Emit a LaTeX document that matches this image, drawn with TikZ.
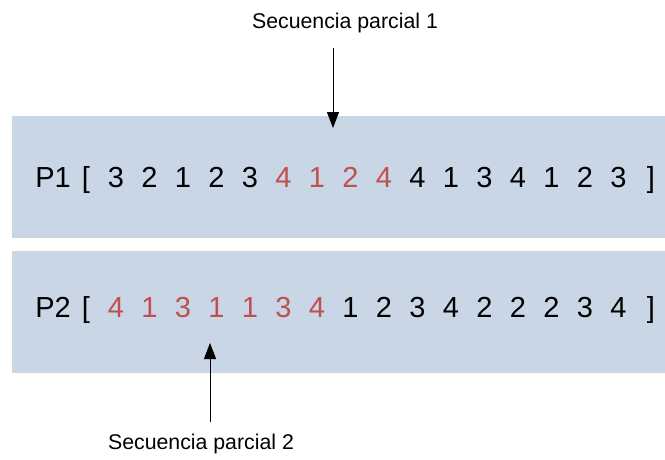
\documentclass[tikz,border=0pt]{standalone}
\usepackage{fontspec}
\setmainfont{Liberation Sans}
\usetikzlibrary{arrows.meta}
\definecolor{boxblue}{HTML}{C9D6E5}
\definecolor{seqred}{HTML}{C0504D}
\begin{document}
\begin{tikzpicture}[x=1pt,y=-1pt,
  band/.style={fill=boxblue,draw=none},
  dig/.style={anchor=base,inner sep=0pt,font=\fontsize{29}{30}\selectfont},
  lbl/.style={inner sep=0pt,font=\fontsize{21.3}{23}\selectfont},
  arr/.style={draw=black,line width=1pt,-{Triangle[length=16pt,width=12pt]}}]
\useasboundingbox (0,0) rectangle (665,459);
\fill[white] (0,0) rectangle (665,459);
\node[band,minimum width=653pt,minimum height=122pt,inner sep=0pt,anchor=north west] (box1) at (12,116) {};
\node[band,minimum width=653pt,minimum height=122pt,inner sep=0pt,anchor=north west] (box2) at (12,251) {};
% row 1
\node[dig] (p1) at (53,187) {P1};
\node[dig] (p1o) at (86,187) {[};
\foreach \d [count=\i] in {3,2,1,2,3,4,1,2,4,4,1,3,4,1,2,3}{
  \pgfmathsetmacro{\xx}{116+33.5*(\i-1)}
  \ifnum\i>5 \ifnum\i<10 \def\cc{seqred}\else\def\cc{black}\fi\else\def\cc{black}\fi
  \node[dig,text=\cc] (r1d\i) at (\xx,187) {\d};
}
\node[dig] (p1c) at (651,187) {]};
% row 2
\node[dig] (p2) at (53,317) {P2};
\node[dig] (p2o) at (86,317) {[};
\foreach \d [count=\i] in {4,1,3,1,1,3,4,1,2,3,4,2,2,2,3,4}{
  \pgfmathsetmacro{\xx}{116+33.5*(\i-1)}
  \ifnum\i<8 \def\cc{seqred}\else\def\cc{black}\fi
  \node[dig,text=\cc] (r2d\i) at (\xx,317) {\d};
}
\node[dig] (p2c) at (651,317) {]};
% labels and arrows
\node[lbl] (lab1) at (345,23) {Secuencia parcial 1};
\node[lbl] (lab2) at (201,444) {Secuencia parcial 2};
\coordinate (s1) at (333,48);
\coordinate (e1) at (333,128);
\coordinate (s2) at (210,422);
\coordinate (e2) at (210,343);
\draw[arr] (s1) -- (e1);
\draw[arr] (s2) -- (e2);
\end{tikzpicture}
\end{document}
